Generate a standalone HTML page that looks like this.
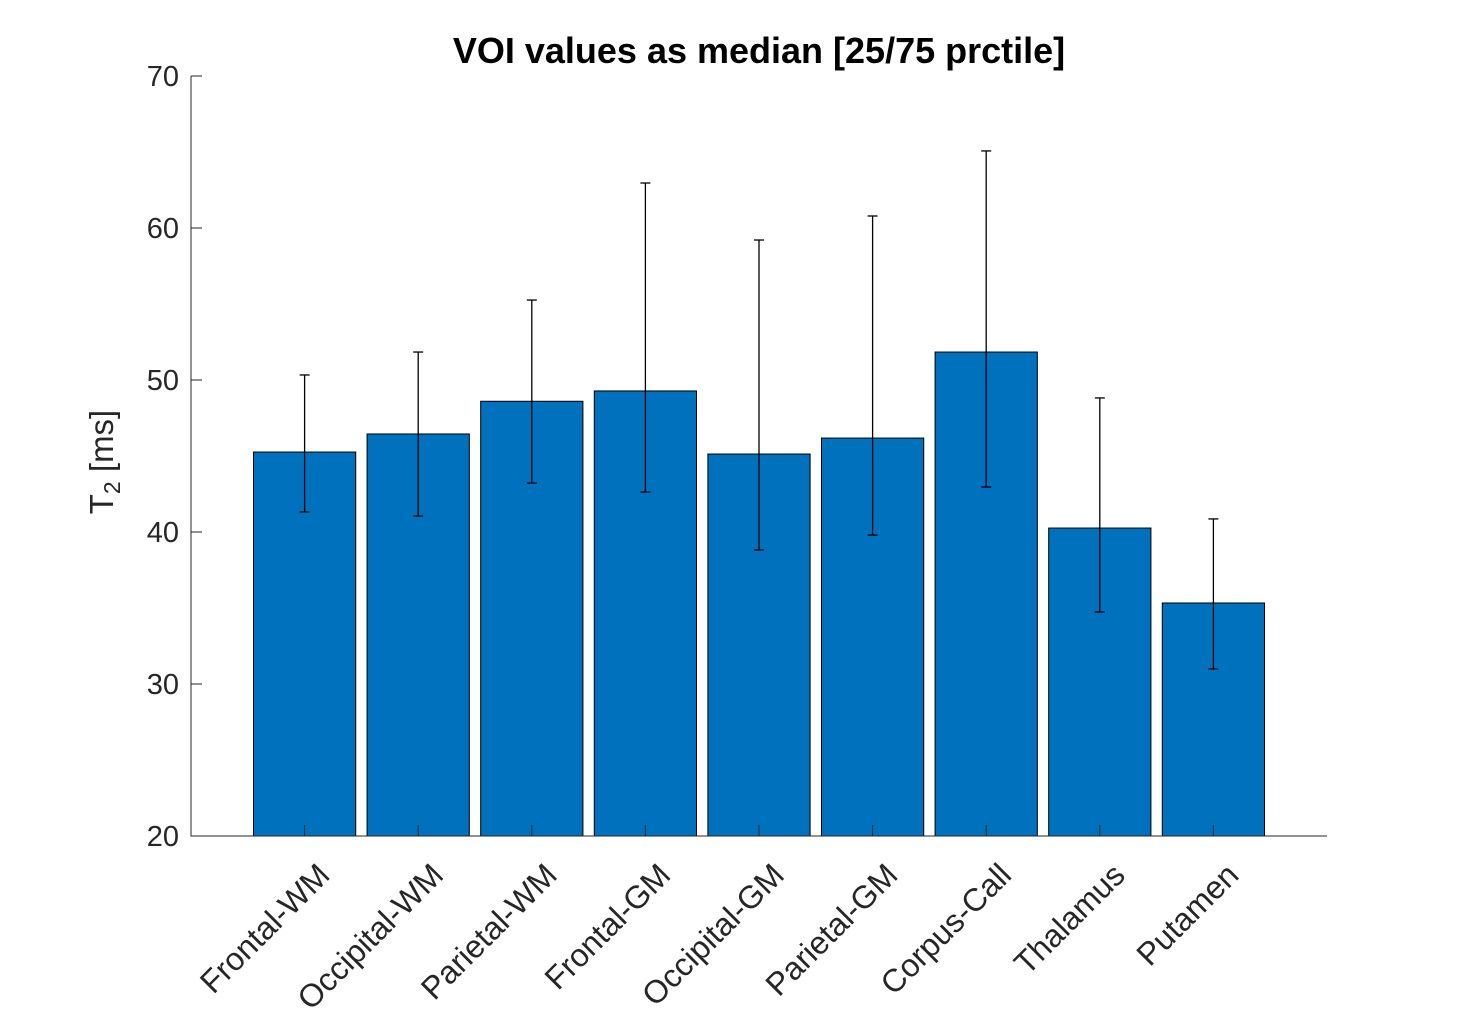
<!DOCTYPE html>
<html><head><meta charset="utf-8"><style>
body{margin:0;background:#fff;}
svg{display:block;font-family:"Liberation Sans",Arial,sans-serif;}
</style></head><body>
<svg id="chart" width="1469" height="1017">
<text x="759" y="63" text-anchor="middle" font-size="36" font-weight="bold" fill="#000">VOI values as median [25/75 prctile]</text>
<text transform="translate(113,462) rotate(-90)" text-anchor="middle" font-size="33" fill="#262626">T<tspan font-size="23" dy="7">2</tspan><tspan dy="-7"> [ms]</tspan></text>
<g id="bars"></g><g id="errs"></g><g id="axes"></g>
</svg>
<script>
const categories=["Frontal-WM","Occipital-WM","Parietal-WM","Frontal-GM","Occipital-GM","Parietal-GM","Corpus-Call","Thalamus","Putamen"];
const medians=[45.26,46.45,48.6,49.28,45.13,46.18,51.84,40.26,35.33];
const upper=[50.33,51.84,55.26,62.96,59.21,60.79,65.07,48.82,40.86];
const lower=[41.32,41.05,43.22,42.63,38.82,39.8,42.96,34.74,30.99];
const yTicks=[20,30,40,50,60,70];
const X0=191,X1=1327,Y0=836,Y1=76,YMIN=20,YMAX=70;
const step=(X1-X0)/(categories.length+1);
function xs(i){return X0+step*(i+1);}
function ys(v){return Y0-(v-YMIN)/(YMAX-YMIN)*(Y0-Y1);}
const NS="http://www.w3.org/2000/svg";
function mk(t,a,p){const e=document.createElementNS(NS,t);for(const k in a)e.setAttribute(k,a[k]);p.appendChild(e);return e;}
const gb=document.getElementById('bars'),ge=document.getElementById('errs'),ga=document.getElementById('axes');
const bw=step*0.9;
categories.forEach((c,i)=>{
 const cx=xs(i);
 const r=mk('rect',{x:cx-bw/2,y:ys(medians[i]),width:bw,height:Y0-ys(medians[i]),fill:'#0072BD',stroke:'#000','stroke-width':1},gb);
 
 
 const g=mk('g',{stroke:'#000','stroke-width':1.3},ge);
 
 
 mk('line',{x1:cx,x2:cx,y1:ys(upper[i]),y2:ys(lower[i])},g);
 mk('line',{x1:cx-5,x2:cx+5,y1:ys(upper[i]),y2:ys(upper[i])},g);
 mk('line',{x1:cx-5,x2:cx+5,y1:ys(lower[i]),y2:ys(lower[i])},g);
 const t=mk('text',{transform:`translate(${cx+27},${Y0+41}) rotate(-45)`,'text-anchor':'end','font-size':32,fill:'#262626'},ga);
 t.textContent=c;
 
 
 mk('line',{x1:cx,x2:cx,y1:Y0,y2:Y0-11,stroke:'#262626'},ga);
});
const ax=mk('path',{d:`M${X0},${Y1}V${Y0}H${X1}`,fill:'none',stroke:'#262626','stroke-width':1},ga);


yTicks.forEach(v=>{
 mk('line',{x1:X0,x2:X0+11,y1:ys(v),y2:ys(v),stroke:'#262626'},ga);
 const t=mk('text',{x:X0-12,y:ys(v)+10,'text-anchor':'end','font-size':29,fill:'#262626'},ga);
 t.textContent=v;
 
 
});
</script>
</body></html>
